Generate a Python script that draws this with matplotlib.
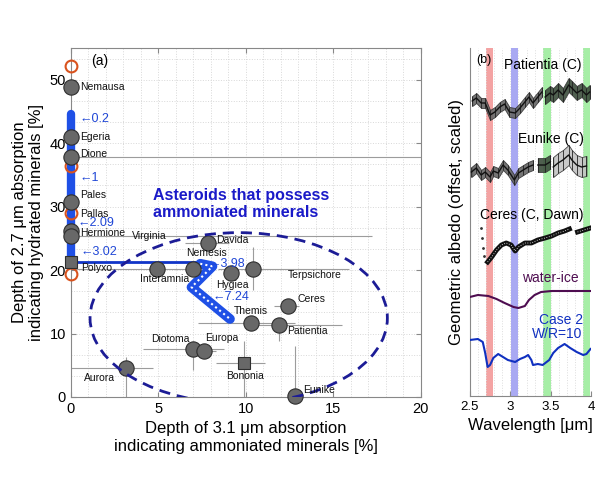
import numpy as np
import matplotlib
matplotlib.use("Agg")
import matplotlib.pyplot as plt
from matplotlib.patches import Ellipse

plt.rcParams['font.family'] = ['Liberation Sans', 'DejaVu Sans']

# ---- panel (a): band depths of asteroids ----
names = ["Nemausa", "Egeria", "Dione", "Pales", "Hermione", "Virginia", "Davida",
         "Nemesis", "Interamnia", "Hygiea", "Terpsichore", "Ceres", "Themis",
         "Patientia", "Diotoma", "Europa", "Aurora", "Eunike"]
depth31 = [0, 0, 0, 0, 0, 0, 7.85, 6.99, 4.91, 9.18, 10.4, 12.4, 10.3, 11.9, 7.0, 7.6, 3.14, 12.8]
depth27 = [48.8, 40.9, 37.9, 30.8, 26.1, 25.4, 24.3, 20.1, 20.1, 19.6, 20.2, 14.4, 11.6, 11.4, 7.6, 7.2, 4.6, 0.2]
x_err_lo = [0, 0, 0, 0, 0, 0, 1.3, 0, 4.9, 0, 2.0, 0.8, 3.0, 1.5, 2.9, 0.5, 3.14, 0]
x_err_hi = [0, 0, 20, 0, 0, 17.2, 1.2, 0, 2.5, 0, 5.5, 0.65, 2.5, 3.6, 1.75, 0.7, 1.55, 0]
y_err_lo = [0, 0, 0, 0, 0, 0, 0, 0, 0, 0, 3.4, 1.0, 0, 2.5, 3.3, 0, 4.6, 0.2]
y_err_hi = [0, 0, 0, 0, 0, 0, 0, 0, 0, 0, 3.5, 0.8, 0, 1.0, 1.3, 0, 1.7, 7.9]

sq_names = ["Polyxo", "Bononia"]
sq_depth31 = [0, 9.9]
sq_depth27 = [21.3, 5.3]
sq_x_err = [[0, 1.6], [0, 1.2]]
sq_y_err = [[0, 5.3], [0, 3.6]]

ring_depth31 = [0, 0, 0, 0]
ring_depth27 = [52.2, 36.4, 29.0, 19.4]

# model track (blue)
model_col_x = [0, 0]
model_col_y = [44.6, 21.3]
model_link_x = [0, 7.4]
model_link_y = [21.3, 21.3]
model_curve_x = [7.4, 8.1, 6.9, 9.1]
model_curve_y = [21.0, 20.6, 17.3, 12.3]
model_tags = ["←0.2", "←1", "←2.09", "←3.02", "←3.98", "←7.24"]
model_tag_xy = [(0.5, 43.8), (0.5, 34.5), (0.4, 27.4), (0.57, 22.9), (7.9, 20.9), (8.1, 15.7)]

# label placement for asteroid names
label_xy = {
    "Nemausa": (0.55, 48.8), "Egeria": (0.55, 40.9), "Dione": (0.55, 38.3),
    "Pales": (0.55, 31.8), "Pallas": (0.55, 28.9), "Hermione": (0.55, 25.9),
    "Polyxo": (0.57, 20.4), "Virginia": (3.52, 25.4), "Davida": (8.32, 24.7),
    "Nemesis": (6.57, 22.7), "Interamnia": (3.94, 18.6), "Hygiea": (8.29, 17.6),
    "Terpsichore": (12.4, 19.3), "Ceres": (12.97, 15.4), "Themis": (9.33, 13.5),
    "Patientia": (12.38, 10.4), "Diotoma": (4.57, 9.1), "Europa": (7.67, 9.3),
    "Bononia": (8.89, 3.3), "Aurora": (0.76, 3.05), "Eunike": (13.27, 1.05),
}

# ---- panel (b): spectra ----
pat_w1 = [2.53, 2.58, 2.64, 2.69, 2.75, 2.81, 2.87, 2.93, 2.99, 3.06, 3.12, 3.18, 3.23, 3.28, 3.34, 3.39]
pat_y1 = [2.95, 2.98, 2.93, 2.93, 2.81, 2.84, 2.89, 2.92, 2.84, 2.83, 2.88, 2.94, 2.99, 2.93, 2.99, 3.04]
pat_w2 = [3.43, 3.49, 3.53, 3.59, 3.65, 3.72, 3.76, 3.82, 3.88, 3.94, 3.98]
pat_y2 = [2.99, 3.03, 3.01, 3.06, 3.01, 3.11, 3.08, 3.03, 3.06, 3.01, 3.04]

eun_w1 = [2.52, 2.58, 2.64, 2.69, 2.75, 2.79, 2.85, 2.91, 2.97, 3.05, 3.10, 3.16, 3.22, 3.28]
eun_y1 = [2.24, 2.28, 2.21, 2.24, 2.19, 2.25, 2.23, 2.31, 2.26, 2.16, 2.23, 2.26, 2.29, 2.31]
eun_w2 = [3.34, 3.43, 3.49]
eun_y2 = [2.31, 2.31, 2.34]
eun_w3 = [3.53, 3.59, 3.65, 3.72, 3.76, 3.82, 3.88, 3.94]
eun_y3 = [2.29, 2.33, 2.36, 2.41, 2.36, 2.31, 2.29, 2.30]

cer_pts_w = [2.64, 2.65, 2.66, 2.67]
cer_pts_y = [1.68, 1.58, 1.48, 1.40]
cer_w1 = [2.72, 2.77, 2.83, 2.89, 2.95, 3.01, 3.06, 3.10, 3.18, 3.26, 3.34, 3.43, 3.51, 3.59, 3.67, 3.73]
cer_y1 = [1.34, 1.39, 1.46, 1.51, 1.53, 1.51, 1.45, 1.49, 1.53, 1.53, 1.56, 1.58, 1.60, 1.63, 1.65, 1.67]
cer_w2 = [3.83, 3.91, 3.99]
cer_y2 = [1.64, 1.66, 1.68]

ice_w = [2.5, 2.60, 2.73, 2.83, 2.93, 3.04, 3.10, 3.18, 3.23, 3.30, 3.38, 3.51, 3.67, 3.99]
ice_y = [0.99, 1.01, 1.00, 0.97, 0.93, 0.89, 0.88, 0.90, 0.96, 1.01, 1.04, 1.05, 1.05, 1.05]

case2_w = [2.5, 2.60, 2.66, 2.69, 2.72, 2.75, 2.79, 2.85, 2.91, 2.97, 3.06, 3.12, 3.18, 3.22,
           3.26, 3.28, 3.34, 3.40, 3.48, 3.53, 3.59, 3.67, 3.74, 3.82, 3.90, 3.94, 3.99]
case2_y = [0.56, 0.57, 0.54, 0.43, 0.29, 0.31, 0.38, 0.42, 0.39, 0.36, 0.34, 0.37, 0.39, 0.41,
           0.36, 0.31, 0.32, 0.31, 0.36, 0.43, 0.48, 0.52, 0.48, 0.44, 0.41, 0.42, 0.47]

bands = [(2.706, 2.788, '#f4a3a3'), (3.003, 3.097, '#a9a9f2'),
         (3.405, 3.497, '#a6eea6'), (3.90, 3.99, '#a6eea6')]

fig = plt.figure(figsize=(6, 5), dpi=100)
ax = fig.add_axes([0.118, 0.206, 0.583, 0.698])
ax2 = fig.add_axes([0.783, 0.208, 0.2025, 0.696])

# panel (a)
ax.set_xlim(0, 20)
ax.set_ylim(0, 55)
ax.set_xticks([0, 5, 10, 15, 20])
ax.set_yticks([0, 10, 20, 30, 40, 50])
ax.set_xticks(np.arange(0, 21, 1), minor=True)
ax.set_yticks(np.arange(0, 55, 10 / 3), minor=True)
ax.grid(which='both', color='#d8d8d8', ls=':', lw=0.7)
ax.tick_params(which='both', direction='in', top=True, right=True, color='#888888', labelsize=10.5)
ax.tick_params(which='minor', length=0)
for s in ax.spines.values():
    s.set_color('#888888')
ax.set_axisbelow(True)

ax.errorbar(depth31, depth27, xerr=[x_err_lo, x_err_hi], yerr=[y_err_lo, y_err_hi],
            fmt='none', ecolor='#9c9c9c', elinewidth=0.8, capsize=0, zorder=2)
ax.errorbar(sq_depth31, sq_depth27, xerr=sq_x_err, yerr=sq_y_err,
            fmt='none', ecolor='#9c9c9c', elinewidth=0.8, capsize=0, zorder=2)

ax.plot(model_col_x, model_col_y, color='#1f50e6', lw=6, solid_capstyle='round',
        zorder=3, clip_on=False)
ax.plot(model_link_x, model_link_y, color='#1034c8', lw=2, zorder=3)
ax.plot(model_curve_x, model_curve_y, color='#1f50e6', lw=7, solid_capstyle='round',
        solid_joinstyle='round', zorder=3)
ax.plot(model_curve_x, model_curve_y, color='white', lw=1.5, ls=(0, (1, 1.5)), zorder=3)
for t, (tx, ty) in zip(model_tags, model_tag_xy):
    ax.text(tx, ty, t, color='#1f46d6', fontsize=9, va='center', ha='left', zorder=5)

ax.plot(ring_depth31, ring_depth27, 'o', ms=8.5, mfc='none', mec='#d9531e', mew=1.5,
        zorder=4, clip_on=False)
ax.plot(depth31, depth27, 'o', ms=11, mfc='#686868', mec='#2e2e2e', mew=0.8,
        zorder=4, clip_on=False)
ax.plot(sq_depth31, sq_depth27, 's', ms=8.5, mfc='#686868', mec='#2e2e2e', mew=0.8,
        zorder=4, clip_on=False)

for n, (lx, ly) in label_xy.items():
    ax.text(lx, ly, n, fontsize=7.5, va='center', ha='left', color='#111111', zorder=6)

ax.add_patch(Ellipse((9.6, 12.45), 17.0, 26.9, fill=False, ls=(0, (4, 2.5)), lw=2,
                     ec='#1c1c96', zorder=5))
ax.text(4.7, 30.4, "Asteroids that possess\nammoniated minerals", color='#1a1ac8',
        fontsize=11.5, fontweight='bold', va='center', ha='left', linespacing=1.15)
ax.text(1.14, 53.0, "(a)", fontsize=10, va='center')

ax.set_xlabel("Depth of 3.1 μm absorption\nindicating ammoniated minerals [%]", fontsize=12)
ax.set_ylabel("Depth of 2.7 μm absorption\nindicating hydrated minerals [%]", fontsize=12)

# panel (b)
ax2.set_xlim(2.5, 4.0)
ax2.set_ylim(0, 3.48)
ax2.set_xticks([2.5, 3, 3.5, 4])
ax2.set_xticklabels(["2.5", "3", "3.5", "4"])
ax2.set_xticks(np.arange(2.5, 4.01, 0.1), minor=True)
ax2.set_yticks([])
ax2.grid(which='both', axis='x', color='#dddddd', ls=':', lw=0.7)
ax2.tick_params(which='both', direction='in', color='#888888', labelsize=9.5)
ax2.tick_params(which='minor', length=0)
ax2.spines['top'].set_visible(False)
ax2.spines['right'].set_visible(False)
for s in ['left', 'bottom']:
    ax2.spines[s].set_color('#888888')
for lo, hi, c in bands:
    ax2.axvspan(lo, hi, color=c, lw=0, zorder=0)


def band(w, y, err, fc):
    lo = np.array(y) - err
    hi = np.array(y) + err
    ax2.fill_between(w, lo, hi, color=fc, lw=0.6, ec='#333333', alpha=0.9, zorder=2)
    ax2.errorbar(w, y, yerr=err, fmt='none', ecolor='#222222', elinewidth=0.6, zorder=3)
    ax2.plot(w, y, color='#111111', lw=1, zorder=3)


band(pat_w1, pat_y1, 0.05, '#666666')
band(pat_w2, pat_y2, 0.07, '#3c4e3c')
band(eun_w1, eun_y1, 0.05, '#666666')
band(eun_w2, eun_y2, 0.07, '#3c4e3c')
band(eun_w3, eun_y3, 0.1, '#c4c4c4')

ax2.plot(cer_pts_w, cer_pts_y, '.', color='#333333', ms=2, zorder=3)
ax2.plot(cer_w1, cer_y1, color='#111111', lw=3.5, zorder=3)
ax2.plot(cer_w2, cer_y2, color='#111111', lw=3.5, zorder=3)
ax2.plot(cer_w1, cer_y1, color='white', lw=0.6, ls=(0, (1, 2)), zorder=4)
ax2.plot(cer_w2, cer_y2, color='white', lw=0.6, ls=(0, (1, 2)), zorder=4)
ax2.plot(ice_w, ice_y, color='#4e0d50', lw=1.5, zorder=3)
ax2.plot(case2_w, case2_y, color='#1030c0', lw=1.5, zorder=3)

ax2.text(3.405, 3.31, "Patientia (C)", fontsize=10, ha='center', va='center')
ax2.text(3.5, 2.57, "Eunike (C)", fontsize=10, ha='center', va='center')
ax2.text(3.26, 1.81, "Ceres (C, Dawn)", fontsize=10, ha='center', va='center')
ax2.text(3.5, 1.18, "water-ice", fontsize=10, ha='center', va='center', color='#4e0d50')
ax2.text(3.895, 0.69, "Case 2\nW/R=10", fontsize=10, ha='right', va='center',
         color='#1030c0', multialignment='right', linespacing=1.0)
ax2.text(2.58, 3.36, "(b)", fontsize=9, va='center')
ax2.set_xlabel("Wavelength [μm]", fontsize=12)
ax2.set_ylabel("Geometric albedo (offset, scaled)", fontsize=12, labelpad=4)

fig.savefig("out.png", dpi=100)
